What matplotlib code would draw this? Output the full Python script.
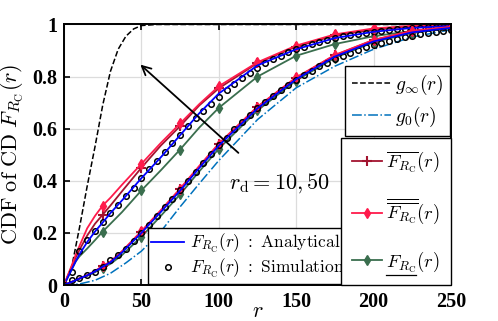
import matplotlib
matplotlib.use("Agg")
import matplotlib.pyplot as plt
from matplotlib.lines import Line2D

plt.rcParams['mathtext.fontset'] = 'cm'
plt.rcParams['font.family'] = ['Liberation Serif', 'DejaVu Serif']

# r grid for the F curves
r = [0, 2.5, 5, 7.5, 10, 15, 20, 25, 30, 37.5, 50, 62.5, 75, 87.5, 100,
     125, 150, 175, 200, 225, 250]
mk = [0, 7, 10, 12, 14, 15, 16, 17, 18, 19, 20]   # r = 0,25,50,...,250

# r_d = 10 (upper group)
ana_10 = [0, 0.03, 0.06, 0.09, 0.118, 0.165, 0.205, 0.24, 0.276, 0.325, 0.41,
          0.49, 0.575, 0.66, 0.735, 0.843, 0.905, 0.948, 0.972, 0.987, 0.994]
up_10 = [0, 0.035, 0.07, 0.105, 0.135, 0.19, 0.235, 0.27, 0.305, 0.36, 0.45,
         0.535, 0.61, 0.69, 0.755, 0.852, 0.915, 0.958, 0.98, 0.992, 0.997]
dup_10 = [0, 0.038, 0.075, 0.115, 0.15, 0.218, 0.265, 0.305, 0.335, 0.385, 0.465,
          0.545, 0.62, 0.695, 0.763, 0.855, 0.919, 0.962, 0.985, 0.995, 0.998]
low_10 = [0, 0.03, 0.06, 0.09, 0.11, 0.14, 0.172, 0.205, 0.235, 0.28, 0.363,
          0.44, 0.52, 0.605, 0.68, 0.80, 0.88, 0.925, 0.955, 0.975, 0.987]
r_sim = [0, 5, 10, 15, 20, 25, 30, 35, 40, 45, 50, 55, 60, 65, 70, 75, 80, 85,
         90, 95, 100, 105, 110, 115, 120, 125, 130, 135, 140, 145, 150, 155,
         160, 165, 170, 175, 180, 185, 190, 195, 200, 205, 210, 215, 220, 225,
         230, 235, 240, 245, 250]
sim_10 = [0, 0.05, 0.13, 0.173, 0.209, 0.24, 0.276, 0.308, 0.34, 0.374, 0.41,
          0.445, 0.477, 0.512, 0.545, 0.577, 0.61, 0.64, 0.668, 0.696, 0.722,
          0.748, 0.772, 0.795, 0.815, 0.834, 0.851, 0.866, 0.88, 0.893, 0.905,
          0.915, 0.925, 0.934, 0.942, 0.949, 0.955, 0.96, 0.965, 0.969, 0.973,
          0.976, 0.979, 0.982, 0.984, 0.986, 0.988, 0.99, 0.991, 0.992, 0.993]

# r_d = 50 (lower group)
ana_50 = [0, 0.006, 0.012, 0.018, 0.025, 0.037, 0.052, 0.07, 0.087, 0.125, 0.2,
          0.28, 0.362, 0.45, 0.535, 0.678, 0.79, 0.877, 0.935, 0.97, 0.987]
up_50 = [0, 0.006, 0.012, 0.018, 0.025, 0.037, 0.053, 0.072, 0.089, 0.128, 0.204,
         0.284, 0.367, 0.455, 0.54, 0.683, 0.795, 0.882, 0.94, 0.975, 0.99]
dup_50 = [0, 0.006, 0.012, 0.019, 0.026, 0.038, 0.054, 0.073, 0.09, 0.13, 0.207,
          0.287, 0.37, 0.458, 0.543, 0.685, 0.797, 0.883, 0.941, 0.976, 0.991]
low_50 = [0, 0.006, 0.012, 0.018, 0.024, 0.035, 0.049, 0.066, 0.081, 0.115, 0.185,
          0.265, 0.348, 0.437, 0.523, 0.67, 0.785, 0.872, 0.932, 0.968, 0.985]
sim_50 = [0, 0.018, 0.028, 0.038, 0.05, 0.07, 0.096, 0.115, 0.137, 0.169, 0.201,
          0.232, 0.265, 0.298, 0.332, 0.366, 0.4, 0.435, 0.47, 0.503, 0.536,
          0.566, 0.597, 0.625, 0.652, 0.678, 0.702, 0.725, 0.747, 0.768, 0.788,
          0.806, 0.823, 0.839, 0.853, 0.867, 0.879, 0.891, 0.902, 0.912, 0.921,
          0.93, 0.938, 0.945, 0.951, 0.957, 0.963, 0.968, 0.972, 0.976, 0.98]

# bounds
r_g = [0, 5, 10, 15, 20, 25, 30, 35, 40, 45, 50, 60, 250]
g_inf = [0, 0.07, 0.22, 0.38, 0.53, 0.69, 0.82, 0.905, 0.955, 0.983, 0.996, 1.0, 1.0]
r_g0 = [0, 10, 20, 30, 40, 50, 62.5, 75, 87.5, 100, 125, 150, 175, 200, 225, 250]
g_0 = [0, 0.004, 0.018, 0.045, 0.085, 0.13, 0.205, 0.3, 0.39, 0.478, 0.635,
       0.757, 0.84, 0.905, 0.952, 0.98]

c_up = '#A2142F'
c_dup = '#FF1A4B'
c_low = '#3A6E4E'

fig = plt.figure(figsize=(4.98, 3.21), dpi=100)
ax = fig.add_axes([0.1285, 0.1121, 0.7771, 0.8116])

ax.plot(r_g, g_inf, '--', color='k', lw=1.1)
ax.plot(r_g0, g_0, '-.', color='#0072BD', lw=1.1)

for ana, up, dup, low, sim in [(ana_10, up_10, dup_10, low_10, sim_10),
                               (ana_50, up_50, dup_50, low_50, sim_50)]:
    ax.plot(r, low, color=c_low, lw=1.3, marker='d', ms=5, markevery=mk)
    ax.plot(r, up, color=c_up, lw=1.3, marker='+', ms=7, mew=1.5, markevery=mk)
    ax.plot(r, dup, color=c_dup, lw=1.3, marker='d', ms=5, markevery=mk)
    ax.plot(r_sim, sim, 'o', mfc='none', mec='k', ms=4, mew=1.1)
    ax.plot(r, ana, color='#0000FF', lw=1.3)

ax.annotate('', xy=(48, 0.853), xytext=(114, 0.5),
            arrowprops=dict(arrowstyle='->', color='k', lw=1.3, mutation_scale=16))
ax.text(139, 0.39, r'$r_{\rm d} = 10, 50$', fontsize=16, ha='center', va='center')

ax.set_xlim(0, 250)
ax.set_ylim(0, 1)
ax.set_xticks([0, 50, 100, 150, 200, 250])
ax.set_yticks([0, 0.2, 0.4, 0.6, 0.8, 1])
ax.set_yticklabels(['0', '0.2', '0.4', '0.6', '0.8', '1'])
ax.grid(True, color='#DCDCDC', lw=0.9)
ax.tick_params(direction='in', top=True, right=True, length=4, width=1.2,
               labelsize=14.5, pad=5)
for t in ax.get_xticklabels() + ax.get_yticklabels():
    t.set_fontweight('bold')
for s in ax.spines.values():
    s.set_linewidth(1.4)

ax.set_xlabel(r'$r$', fontsize=16)
ax.xaxis.set_label_coords(0.5, -0.07)
ax.set_ylabel(r'$\mathrm{CDF\ of\ CD}\ F_{R_{\rm C}}(r)$', fontsize=16)
ax.yaxis.set_label_coords(-0.098, 0.5)

lk = dict(frameon=True, fancybox=False, framealpha=1, edgecolor='k', borderaxespad=0)

h1 = [Line2D([], [], color='#0000FF', lw=1.3),
      Line2D([], [], ls='none', marker='o', mfc='none', mec='k', ms=4, mew=1.1)]
leg1 = ax.legend(h1, [r'$F_{R_{\rm C}}(r)\ :\ \mathrm{Analytical}$',
                      r'$F_{R_{\rm C}}(r)\ :\ \mathrm{Simulation}$'],
                 loc='lower left', bbox_to_anchor=(0.217, 0.005), fontsize=12.5,
                 handlelength=1.9, handletextpad=0.3, labelspacing=0.15,
                 borderpad=0.2, **lk)
leg1.get_frame().set_linewidth(1.0)
ax.add_artist(leg1)

h2 = [Line2D([], [], ls='--', color='k', lw=1.1),
      Line2D([], [], ls='-.', color='#0072BD', lw=1.1)]
leg2 = ax.legend(h2, [r'$g_{\infty}(r)$', r'$g_{0}(r)$'],
                 loc='upper right', bbox_to_anchor=(0.997, 0.84), fontsize=14,
                 handlelength=2.0, handletextpad=0.2, labelspacing=0.4,
                 borderpad=0.35, **lk)
leg2.get_frame().set_linewidth(1.0)
ax.add_artist(leg2)

h3 = [Line2D([], [], color=c_up, lw=1.3, marker='+', ms=7, mew=1.5),
      Line2D([], [], color=c_dup, lw=1.3, marker='d', ms=5),
      Line2D([], [], color=c_low, lw=1.3, marker='d', ms=5)]
leg3 = ax.legend(h3, [r'$\overline{F_{R_{\rm C}}}(r)$',
                      r'$\overline{\overline{F_{R_{\rm C}}}}(r)$',
                      r'$F_{R_{\rm C}}(r)$'],
                 loc='lower right', bbox_to_anchor=(1.0, 0.0), fontsize=13.5,
                 handlelength=1.6, handletextpad=0.2, labelspacing=1.2,
                 borderpad=0.6, **lk)
leg3.get_frame().set_linewidth(1.0)

# underline for the lower-bound label
fig.canvas.draw()
rend = fig.canvas.get_renderer()
tmp = fig.text(0, 0, r'$F_{R_{\rm C}}$', fontsize=13.5)
w = tmp.get_window_extent(rend).width
tmp.remove()
bb = leg3.get_texts()[2].get_window_extent(rend)
W, H = fig.get_size_inches() * fig.dpi
y0 = bb.y0 - 1
fig.add_artist(Line2D([bb.x0 / W, (bb.x0 + w) / W], [y0 / H, y0 / H],
                      color='k', lw=0.9, transform=fig.transFigure))

fig.savefig('out.png', dpi=100)
